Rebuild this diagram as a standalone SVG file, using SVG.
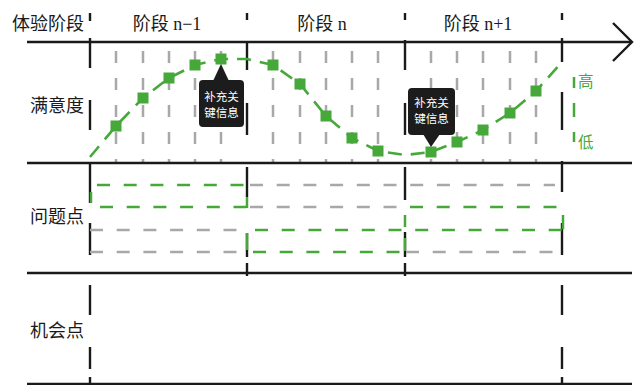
<svg xmlns="http://www.w3.org/2000/svg" width="639" height="385" viewBox="0 0 639 385">
<style>
.lbl{font-family:"Liberation Serif","Noto Sans CJK SC",serif;font-size:18px;fill:#1a1a1a}
.co{font-family:"Noto Sans CJK SC",sans-serif;font-size:11.5px;fill:#ffffff;text-anchor:middle}
.gv{stroke:#a8a8a8;stroke-width:2.5;stroke-dasharray:12 15}
.bk{stroke:#1a1a1a;stroke-width:2.4;fill:none}
.gh{stroke:#a8a8a8;stroke-width:2.5;stroke-dasharray:13 13.7}
.grh{stroke:#47a83a;stroke-width:2.5;stroke-dasharray:13 13.7}
.gs{stroke:#47a83a;stroke-width:2.5}
.sq{fill:#47a83a}
.cb{fill:#1c1c1c}
</style>
<rect width="639" height="385" fill="#ffffff"/>
<g id="grid-gray">
<line class="gv" x1="116" y1="51" x2="116" y2="163"/>
<line class="gv" x1="143" y1="51" x2="143" y2="163"/>
<line class="gv" x1="169" y1="51" x2="169" y2="163"/>
<line class="gv" x1="195" y1="51" x2="195" y2="163"/>
<line class="gv" x1="221" y1="51" x2="221" y2="163"/>
<line class="gv" x1="273" y1="51" x2="273" y2="163"/>
<line class="gv" x1="300" y1="51" x2="300" y2="163"/>
<line class="gv" x1="326" y1="51" x2="326" y2="163"/>
<line class="gv" x1="352" y1="51" x2="352" y2="163"/>
<line class="gv" x1="378" y1="51" x2="378" y2="163"/>
<line class="gv" x1="431" y1="51" x2="431" y2="163"/>
<line class="gv" x1="457" y1="51" x2="457" y2="163"/>
<line class="gv" x1="483" y1="51" x2="483" y2="163"/>
<line class="gv" x1="510" y1="51" x2="510" y2="163"/>
<line class="gv" x1="536" y1="51" x2="536" y2="163"/>
</g>
<g id="phase-dividers">
<path class="bk" d="M90 13V21M90 38V68M90 100V130M90 162V203M90 223V255M90 285V315M90 347V369M90 377V384"/>
<path class="bk" d="M247 13V20M247 43V70M247 103V135M247 167V197M247 233V257M247 263V276"/>
<path class="bk" d="M405 13V20M405 40V70M405 103V135M405 167V200M405 232V257M405 263V276"/>
<path class="bk" d="M562 13V20M562 38V62M562 92V130M562 161V192M562 223V255M562 285V315M562 347V369M562 377V384"/>
</g>
<g id="rows">
<line class="bk" x1="27" y1="42" x2="631" y2="42" stroke-width="2.2"/>
<polyline class="bk" points="613,23 632,42 613,61" stroke-width="2.6"/>
<line class="bk" x1="27" y1="163" x2="632" y2="163" stroke-width="2.2"/>
<line class="bk" x1="27" y1="273" x2="632" y2="273" stroke-width="2.2"/>
<line class="bk" x1="27" y1="384" x2="632" y2="384" stroke-width="2.2"/>
</g>
<g id="issues">
<line class="gh" x1="250" y1="185" x2="555" y2="185"/>
<line class="gh" x1="250" y1="207" x2="405" y2="207"/>
<line class="gh" x1="90" y1="230" x2="240" y2="230"/>
<line class="gh" x1="90" y1="252" x2="240" y2="252"/>
<line class="gh" x1="406" y1="252" x2="555" y2="252"/>
<line class="grh" x1="97" y1="185" x2="247" y2="185"/>
<line class="grh" x1="100" y1="207" x2="247" y2="207"/>
<line class="grh" x1="410" y1="207" x2="558" y2="207"/>
<line class="grh" x1="255" y1="230" x2="563" y2="230"/>
<line class="grh" x1="253" y1="252" x2="405" y2="252"/>
<path class="gs" d="M91 192V203M247 197V208M247 233V250M405 215V227M405 238V251M563 215V229"/>
</g>
<g id="satisfaction">
<polyline fill="none" stroke="#47a83a" stroke-width="2.6" stroke-dasharray="14 9" points="90,157 116,126 143,98 169,78 195,65 221,59 247,59 273,65 300,84 326,116 352,138 378,151 405,155 431,152 457,142 483,130 510,113 536,91 562,62"/>
<g class="sq">
<rect x="110.5" y="120.5" width="11" height="11"/>
<rect x="137.5" y="92.5" width="11" height="11"/>
<rect x="163.5" y="72.5" width="11" height="11"/>
<rect x="189.5" y="59.5" width="11" height="11"/>
<rect x="215.5" y="53.5" width="11" height="11"/>
<rect x="267.5" y="59.5" width="11" height="11"/>
<rect x="294.5" y="78.5" width="11" height="11"/>
<rect x="320.5" y="110.5" width="11" height="11"/>
<rect x="346.5" y="132.5" width="11" height="11"/>
<rect x="372.5" y="145.5" width="11" height="11"/>
<rect x="425.5" y="146.5" width="11" height="11"/>
<rect x="451.5" y="136.5" width="11" height="11"/>
<rect x="477.5" y="124.5" width="11" height="11"/>
<rect x="504.5" y="107.5" width="11" height="11"/>
<rect x="530.5" y="85.5" width="11" height="11"/>
</g>
</g>
<g id="callout-1">
<rect class="cb" x="199" y="80" width="45" height="47" rx="4"/>
<polygon class="cb" points="213,81 221,64 229,81"/>
<text class="co"><tspan x="221.5" y="100.5">补充关</tspan><tspan x="221.5" y="117">键信息</tspan></text>
</g>
<g id="callout-2">
<rect class="cb" x="408" y="88" width="47" height="47" rx="4"/>
<polygon class="cb" points="423,134 431,147 440,134"/>
<text class="co"><tspan x="431.5" y="106.5">补充关</tspan><tspan x="431.5" y="123">键信息</tspan></text>
</g>
<g id="legend">
<path class="gs" d="M574 77V88M574 103V117M574 132V142" stroke-width="2.6"/>
<text x="578" y="87" font-family="Liberation Serif,Noto Sans CJK SC,serif" font-size="15.5" fill="#47a83a">高</text>
<text x="578" y="148" font-family="Liberation Serif,Noto Sans CJK SC,serif" font-size="15.5" fill="#47a83a">低</text>
</g>
<g id="labels">
<text class="lbl" x="84" y="30" text-anchor="end">体验阶段</text>
<text class="lbl" x="84" y="112" text-anchor="end">满意度</text>
<text class="lbl" x="84" y="223" text-anchor="end">问题点</text>
<text class="lbl" x="84" y="337" text-anchor="end">机会点</text>
<text class="lbl" x="167" y="30" text-anchor="middle">阶段 n−1</text>
<text class="lbl" x="322" y="30" text-anchor="middle">阶段 n</text>
<text class="lbl" x="478" y="30" text-anchor="middle">阶段 n+1</text>
</g>
</svg>
